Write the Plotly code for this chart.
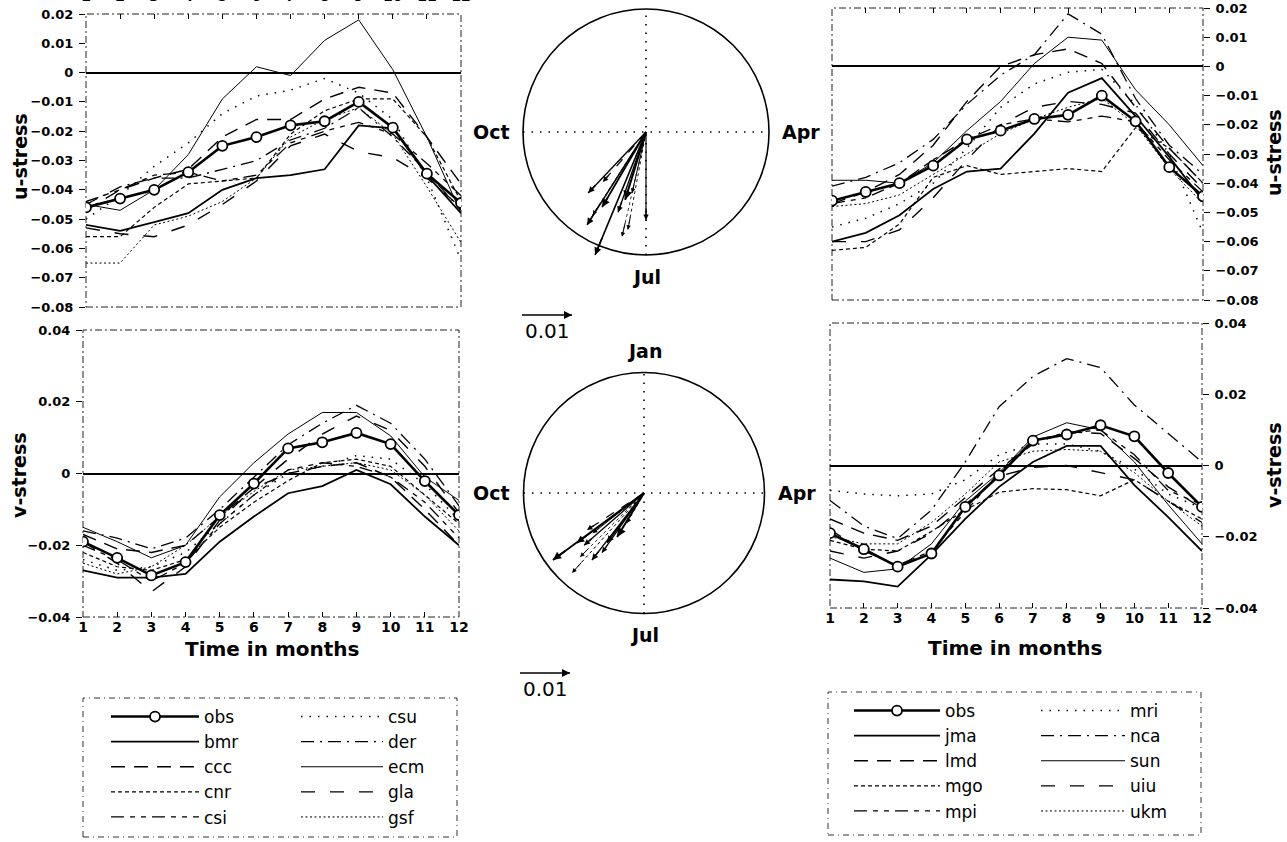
import math
import plotly.graph_objects as go

W, H = 1287, 842
FONT = "DejaVu Sans"

months = list(range(1, 13))
month_labels = [str(m) for m in months]

# ---- u-stress, first model group ----
u_obs = [-0.046, -0.043, -0.040, -0.034, -0.025, -0.022, -0.018, -0.0166, -0.010, -0.0188, -0.0345, -0.0445]
u_bmr = [-0.052, -0.054, -0.051, -0.048, -0.040, -0.036, -0.035, -0.033, -0.018, -0.019, -0.035, -0.048]
u_ccc = [-0.047, -0.040, -0.036, -0.033, -0.022, -0.016, -0.016, -0.009, -0.005, -0.007, -0.022, -0.038]
u_cnr = [-0.056, -0.056, -0.046, -0.038, -0.037, -0.036, -0.021, -0.013, -0.009, -0.009, -0.022, -0.044]
u_csi = [-0.044, -0.040, -0.035, -0.034, -0.037, -0.035, -0.024, -0.020, -0.017, -0.021, -0.031, -0.042]
u_csu = [-0.050, -0.042, -0.032, -0.024, -0.014, -0.008, -0.006, -0.002, -0.007, -0.016, -0.036, -0.064]
u_der = [-0.045, -0.039, -0.036, -0.036, -0.033, -0.030, -0.023, -0.019, -0.012, -0.022, -0.034, -0.047]
u_ecm = [-0.045, -0.047, -0.040, -0.028, -0.009, 0.002, -0.001, 0.011, 0.018, 0.001, -0.022, -0.048]
u_gla = [-0.053, -0.055, -0.056, -0.052, -0.045, -0.037, -0.025, -0.021, -0.027, -0.029, -0.036, -0.046]
u_gsf = [-0.065, -0.065, -0.052, -0.049, -0.044, -0.036, -0.022, -0.016, -0.012, -0.021, -0.039, -0.058]

# ---- v-stress, first model group ----
v_obs = [-0.019, -0.0235, -0.0284, -0.0247, -0.0116, -0.0028, 0.007, 0.0087, 0.0113, 0.0082, -0.0021, -0.0116]
v_bmr = [-0.027, -0.029, -0.029, -0.028, -0.019, -0.012, -0.0055, -0.0035, 0.001, -0.003, -0.012, -0.020]
v_ccc = [-0.017, -0.021, -0.022, -0.020, -0.012, -0.004, 0.000, 0.002, 0.003, -0.001, -0.010, -0.020]
v_cnr = [-0.022, -0.026, -0.027, -0.024, -0.015, -0.008, -0.002, 0.003, 0.004, 0.002, -0.006, -0.014]
v_csi = [-0.020, -0.024, -0.030, -0.025, -0.014, -0.006, 0.001, 0.003, 0.002, -0.001, -0.008, -0.018]
v_csu = [-0.024, -0.027, -0.026, -0.022, -0.014, -0.006, 0.000, 0.002, 0.005, 0.004, -0.003, -0.013]
v_der = [-0.016, -0.018, -0.021, -0.018, -0.010, -0.001, 0.008, 0.014, 0.019, 0.014, 0.004, -0.009]
v_ecm = [-0.015, -0.019, -0.0235, -0.020, -0.0065, 0.003, 0.011, 0.017, 0.017, 0.0105, -0.001, -0.0075]
v_gla = [-0.019, -0.025, -0.033, -0.026, -0.013, -0.004, 0.004, 0.011, 0.016, 0.012, 0.002, -0.011]
v_gsf = [-0.025, -0.028, -0.026, -0.020, -0.012, -0.005, 0.001, 0.002, 0.003, 0.001, -0.006, -0.016]

# ---- u-stress, second model group ----
u_jma = [-0.060, -0.057, -0.051, -0.042, -0.036, -0.035, -0.023, -0.009, -0.004, -0.017, -0.031, -0.046]
u_lmd = [-0.047, -0.043, -0.037, -0.027, -0.012, 0.000, 0.004, 0.006, 0.001, -0.014, -0.028, -0.040]
u_mgo = [-0.063, -0.062, -0.054, -0.038, -0.034, -0.037, -0.036, -0.035, -0.036, -0.021, -0.028, -0.040]
u_mpi = [-0.047, -0.045, -0.040, -0.032, -0.025, -0.020, -0.018, -0.019, -0.017, -0.019, -0.032, -0.043]
u_mri = [-0.055, -0.052, -0.047, -0.040, -0.028, -0.014, -0.006, -0.002, -0.001, -0.013, -0.030, -0.057]
u_nca = [-0.041, -0.038, -0.033, -0.025, -0.013, -0.003, 0.004, 0.018, 0.011, -0.011, -0.027, -0.037]
u_sun = [-0.039, -0.039, -0.040, -0.033, -0.022, -0.012, 0.001, 0.010, 0.009, -0.008, -0.020, -0.034]
u_uiu = [-0.060, -0.060, -0.056, -0.045, -0.032, -0.020, -0.014, -0.012, -0.013, -0.016, -0.030, -0.042]
u_ukm = [-0.048, -0.047, -0.044, -0.037, -0.030, -0.023, -0.018, -0.014, -0.011, -0.020, -0.035, -0.047]

# ---- v-stress, second model group ----
v_jma = [-0.032, -0.0325, -0.034, -0.025, -0.015, -0.006, 0.001, 0.0055, 0.0055, -0.0055, -0.0145, -0.024]
v_lmd = [-0.015, -0.019, -0.021, -0.017, -0.009, -0.001, 0.006, 0.0095, 0.009, 0.002, -0.006, -0.012]
v_mgo = [-0.021, -0.0235, -0.024, -0.0185, -0.0125, -0.0075, -0.0065, -0.0068, -0.0085, -0.004, -0.010, -0.015]
v_mpi = [-0.018, -0.024, -0.028, -0.024, -0.013, -0.002, 0.007, 0.009, 0.010, 0.003, -0.007, -0.011]
v_mri = [-0.007, -0.008, -0.0085, -0.008, -0.004, 0.003, 0.006, 0.006, 0.004, -0.001, -0.008, -0.012]
v_nca = [-0.0098, -0.017, -0.0205, -0.0125, 0.001, 0.0165, 0.025, 0.030, 0.0275, 0.017, 0.009, 0.001]
v_sun = [-0.026, -0.030, -0.029, -0.022, -0.010, -0.002, 0.008, 0.012, 0.010, 0.001, -0.011, -0.022]
v_uiu = [-0.024, -0.026, -0.024, -0.019, -0.011, -0.003, -0.0005, 0.000, -0.002, -0.004, -0.010, -0.016]
v_ukm = [-0.020, -0.022, -0.022, -0.016, -0.008, 0.001, 0.004, 0.0045, 0.004, -0.002, -0.010, -0.017]

# ---- annual-cycle vectors: amplitude and phase (month of maximum) ----
u_vec_amp = [0.0266, 0.0176, 0.0174, 0.0197, 0.0168, 0.0132, 0.0142, 0.0215, 0.0220, 0.0125, 0.0199, 0.0170]
u_vec_phase = [7.75, 7.00, 8.01, 8.09, 8.45, 8.36, 7.57, 7.43, 8.08, 7.43, 7.35, 7.64]
v_vec_amp = [0.0167, 0.0146, 0.0226, 0.0215, 0.0170, 0.0136, 0.0103, 0.0181, 0.0124, 0.0130, 0.0069, 0.0159]
v_vec_phase = [8.78, 8.17, 8.79, 8.40, 8.26, 8.90, 8.05, 8.50, 8.22, 8.73, 7.98, 8.63]
scale_value = 0.01
clock_labels = ["Jan", "Apr", "Jul", "Oct"]
clock_months = [1, 4, 7, 10]

group1 = ["bmr", "ccc", "cnr", "csi", "csu", "der", "ecm", "gla", "gsf"]
group2 = ["jma", "lmd", "mgo", "mpi", "mri", "nca", "sun", "uiu", "ukm"]
u_data = {"bmr": u_bmr, "ccc": u_ccc, "cnr": u_cnr, "csi": u_csi, "csu": u_csu, "der": u_der,
          "ecm": u_ecm, "gla": u_gla, "gsf": u_gsf, "jma": u_jma, "lmd": u_lmd, "mgo": u_mgo,
          "mpi": u_mpi, "mri": u_mri, "nca": u_nca, "sun": u_sun, "uiu": u_uiu, "ukm": u_ukm}
v_data = {"bmr": v_bmr, "ccc": v_ccc, "cnr": v_cnr, "csi": v_csi, "csu": v_csu, "der": v_der,
          "ecm": v_ecm, "gla": v_gla, "gsf": v_gsf, "jma": v_jma, "lmd": v_lmd, "mgo": v_mgo,
          "mpi": v_mpi, "mri": v_mri, "nca": v_nca, "sun": v_sun, "uiu": v_uiu, "ukm": v_ukm}

# line style by position within a group: (dash, width)
STYLES = [
    ("solid", 1.8),                       # bmr / jma
    ("14px,9px", 1.4),                    # ccc / lmd
    ("4px,3px", 1.2),                     # cnr / mgo
    ("13px,6px,5px,6px,5px,6px", 1.3),    # csi / mpi
    ("1.5px,7px", 1.5),                   # csu / mri
    ("13px,6px,2px,6px", 1.3),            # der / nca
    ("solid", 1.0),                       # ecm / sun
    ("14px,15px", 1.4),                   # gla / uiu
    ("2px,2.5px", 1.0),                   # gsf / ukm
]

fig = go.Figure()


def px_x(p):
    return p / W


def px_y(p):
    return 1 - p / H


def add_group(names, u_ax, v_ax, legends):
    for i, name in enumerate(names):
        dash, width = STYLES[i]
        leg = legends[0] if i < 4 else legends[1]
        for vals, (xa, ya), show in ((u_data[name], u_ax, True), (v_data[name], v_ax, False)):
            fig.add_trace(go.Scatter(
                x=months, y=vals, mode="lines", name=name,
                line=dict(color="black", width=width, dash=dash),
                xaxis=xa, yaxis=ya, legend=leg, showlegend=show,
                legendrank=i + 2, hoverinfo="skip"))
    for vals, (xa, ya), show in ((u_obs, u_ax, True), (v_obs, v_ax, False)):
        fig.add_trace(go.Scatter(
            x=months, y=vals, mode="lines+markers", name="obs",
            line=dict(color="black", width=2.6),
            marker=dict(symbol="circle", size=10, color="white",
                        line=dict(color="black", width=1.8)),
            xaxis=xa, yaxis=ya, legend=legends[0], showlegend=show,
            legendrank=1, hoverinfo="skip"))


add_group(group1, ("x", "y"), ("x2", "y2"), ("legend", "legend2"))
add_group(group2, ("x3", "y3"), ("x4", "y4"), ("legend3", "legend4"))

annotations = []
shapes = []

# ---- vector (phase clock) diagrams ----
VEC_W = [1.6, 1.2, 1.8, 1.0, 1.4, 1.2, 2.0, 0.8, 1.5, 1.0, 0.9, 1.3]
VEC_D = ["solid", "solid", "solid", "dot", "solid", "dash", "solid", "dot", "solid", "solid", "dot", "solid"]


def arrow_head(x0, y0, x1, y1, xa, ya, width, size=0.9):
    # short annotation arrow ending at (x1, y1) supplies the arrow head
    annotations.append(dict(x=x1, y=y1, ax=x0 + 0.85 * (x1 - x0), ay=y0 + 0.85 * (y1 - y0),
                            xref=xa, yref=ya, axref=xa, ayref=ya, text="", showarrow=True,
                            arrowhead=2, arrowsize=size, arrowwidth=width, arrowcolor="black",
                            standoff=0, startstandoff=0))


def add_vectors(amps, phases, xa, ya):
    for k, (a, ph) in enumerate(zip(amps, phases)):
        th = (ph - 1) * math.pi / 6
        tx, ty = a * math.sin(th), a * math.cos(th)
        fig.add_trace(go.Scatter(
            x=[0, tx], y=[0, ty], mode="lines",
            line=dict(color="black", width=VEC_W[k], dash=VEC_D[k]),
            xaxis=xa, yaxis=ya, showlegend=False, hoverinfo="skip"))
        arrow_head(0, 0, tx, ty, xa, ya, max(VEC_W[k], 1.0))


add_vectors(u_vec_amp, u_vec_phase, "x5", "y5")
add_vectors(v_vec_amp, v_vec_phase, "x6", "y6")

# scale arrows
for xa, ya, y0 in (("x5", "y5", -0.0366), ("x6", "y6", -0.036)):
    xs = [-0.0248, -0.0248 + scale_value]
    fig.add_trace(go.Scatter(
        x=xs, y=[y0, y0], mode="lines", line=dict(color="black", width=1.6),
        xaxis=xa, yaxis=ya, showlegend=False, hoverinfo="skip"))
    arrow_head(xs[0], y0, xs[1], y0, xa, ya, 1.6, 1.0)

clock_r = {"x5": 0.0246, "x6": 0.0241}
show_jan = {"x5": False, "x6": True}
for xa, ya in (("x5", "y5"), ("x6", "y6")):
    r = clock_r[xa]
    shapes.append(dict(type="circle", xref=xa, yref=ya, x0=-r, x1=r, y0=-r, y1=r,
                       line=dict(color="black", width=1.6)))
    shapes.append(dict(type="line", xref=xa, yref=ya, x0=0, x1=0, y0=-r, y1=r,
                       line=dict(color="black", width=1.6, dash="1.5px,7px")))
    shapes.append(dict(type="line", xref=xa, yref=ya, x0=-r, x1=r, y0=0, y1=0,
                       line=dict(color="black", width=1.6, dash="1.5px,7px")))
    for lab, m in zip(clock_labels, clock_months):
        if lab == "Jan" and not show_jan[xa]:
            continue
        th = (m - 1) * math.pi / 6
        gap = 0.0043 if m in (1, 7) else 0.0064
        annotations.append(dict(x=(r + gap) * math.sin(th), y=(r + gap) * math.cos(th),
                                xref=xa, yref=ya, text=lab, showarrow=False,
                                xanchor="center", yanchor="middle",
                                font=dict(family=FONT, size=19, weight="bold", color="black")))
    y_lab = -0.0397 if xa == "x5" else -0.0392
    annotations.append(dict(x=-0.0248 + scale_value / 2, y=y_lab, xref=xa, yref=ya,
                            text=f"{scale_value:.2f}", showarrow=False,
                            xanchor="center", yanchor="middle",
                            font=dict(family=FONT, size=20, color="black")))

# panel frames
FRAME = dict(color="#222", width=1, dash="7px,3px,2px,3px")
for xa, ya in (("x", "y"), ("x2", "y2"), ("x3", "y3"), ("x4", "y4")):
    shapes.append(dict(type="rect", xref=f"{xa} domain", yref=f"{ya} domain",
                       x0=0, x1=1, y0=0, y1=1, line=FRAME, layer="below"))

# legend boxes
for x0, x1, y0, y1 in ((83, 457, 698, 837), (828, 1201, 692, 835)):
    shapes.append(dict(type="rect", xref="paper", yref="paper",
                       x0=px_x(x0), x1=px_x(x1), y0=px_y(y1), y1=px_y(y0),
                       line=dict(color="#333", width=1, dash="6px,4px,1px,4px")))

TITLE_FONT = dict(family=FONT, size=19, weight="bold", color="black")
for text, x, y, ang in (("u-stress", 20, 157, -90), ("v-stress", 19, 475, -90),
                        ("u-stress", 1274, 153, -90), ("v-stress", 1274, 465, -90)):
    annotations.append(dict(x=px_x(x), y=px_y(y), xref="paper", yref="paper", text=text,
                            textangle=ang, showarrow=False, xanchor="center", yanchor="middle",
                            font=TITLE_FONT))
for x, y in ((272, 649), (1015, 648)):
    annotations.append(dict(x=px_x(x), y=px_y(y), xref="paper", yref="paper",
                            text="Time in months", showarrow=False,
                            xanchor="center", yanchor="middle",
                            font=dict(family=FONT, size=20, weight="bold", color="black")))

TICK_FONT = dict(family=FONT, size=13, weight="bold", color="black")


def xaxis(x0, x1, anchor, side):
    return dict(domain=[px_x(x0), px_x(x1)], range=[1, 12], anchor=anchor, side=side,
                tickmode="array", tickvals=months, ticktext=month_labels,
                ticks="inside", ticklen=5, tickcolor="black",
                tickfont=dict(family=FONT, size=14, weight="bold", color="black"),
                ticklabelstandoff=9 if side == "top" else 0,
                showgrid=False, zeroline=False, showline=False, automargin=False)


def yaxis(top, bottom, rng, dtick, anchor, side):
    return dict(domain=[px_y(bottom), px_y(top)], range=rng, anchor=anchor, side=side,
                tick0=0, dtick=dtick, ticks="outside", ticklen=6, tickcolor="black",
                tickfont=TICK_FONT, ticklabelstandoff=3,
                showgrid=False, zeroline=True, zerolinecolor="black", zerolinewidth=1.6,
                showline=False, automargin=False)


def hidden(d0, d1, rng, anchor, is_x):
    dom = [px_x(d0), px_x(d1)] if is_x else [px_y(d1), px_y(d0)]
    return dict(domain=dom, range=rng, anchor=anchor, visible=False,
                showgrid=False, zeroline=False, automargin=False)


LEG_FONT = dict(family=FONT, size=17, color="black")


def legend(x, y, item_w):
    return dict(x=px_x(x), y=px_y(y), xanchor="left", yanchor="top", orientation="v",
                bgcolor="rgba(0,0,0,0)", borderwidth=0, font=LEG_FONT,
                itemwidth=item_w, tracegroupgap=0, traceorder="normal")


fig.update_layout(
    width=W, height=H, margin=dict(l=0, r=0, t=0, b=0),
    template="none", paper_bgcolor="white", plot_bgcolor="white",
    font=dict(family=FONT, color="black"),
    xaxis=xaxis(86, 461, "y", "top"),
    yaxis=yaxis(14, 307, [-0.08, 0.02], 0.01, "x", "left"),
    xaxis2=xaxis(83, 459, "y2", "bottom"),
    yaxis2=yaxis(330, 617, [-0.04, 0.04], 0.02, "x2", "left"),
    xaxis3=xaxis(832, 1203, "y3", "top"),
    yaxis3=yaxis(8, 300, [-0.08, 0.02], 0.01, "x3", "right"),
    xaxis4=xaxis(830, 1202, "y4", "bottom"),
    yaxis4=yaxis(323, 608, [-0.04, 0.04], 0.02, "x4", "right"),
    xaxis5=hidden(476, 816, [-0.034, 0.034], "y5", True),
    yaxis5=hidden(0, 340, [-0.0416, 0.0264], "x5", False),
    xaxis6=hidden(474, 814, [-0.034, 0.034], "y6", True),
    yaxis6=hidden(345, 700, [-0.0414, 0.0296], "x6", False),
    legend=legend(106, 699, 88),
    legend2=legend(296, 699, 82),
    legend3=legend(849, 693, 86),
    legend4=legend(1036, 693, 84),
    shapes=shapes, annotations=annotations, showlegend=True,
)

fig.write_html("out.html")
